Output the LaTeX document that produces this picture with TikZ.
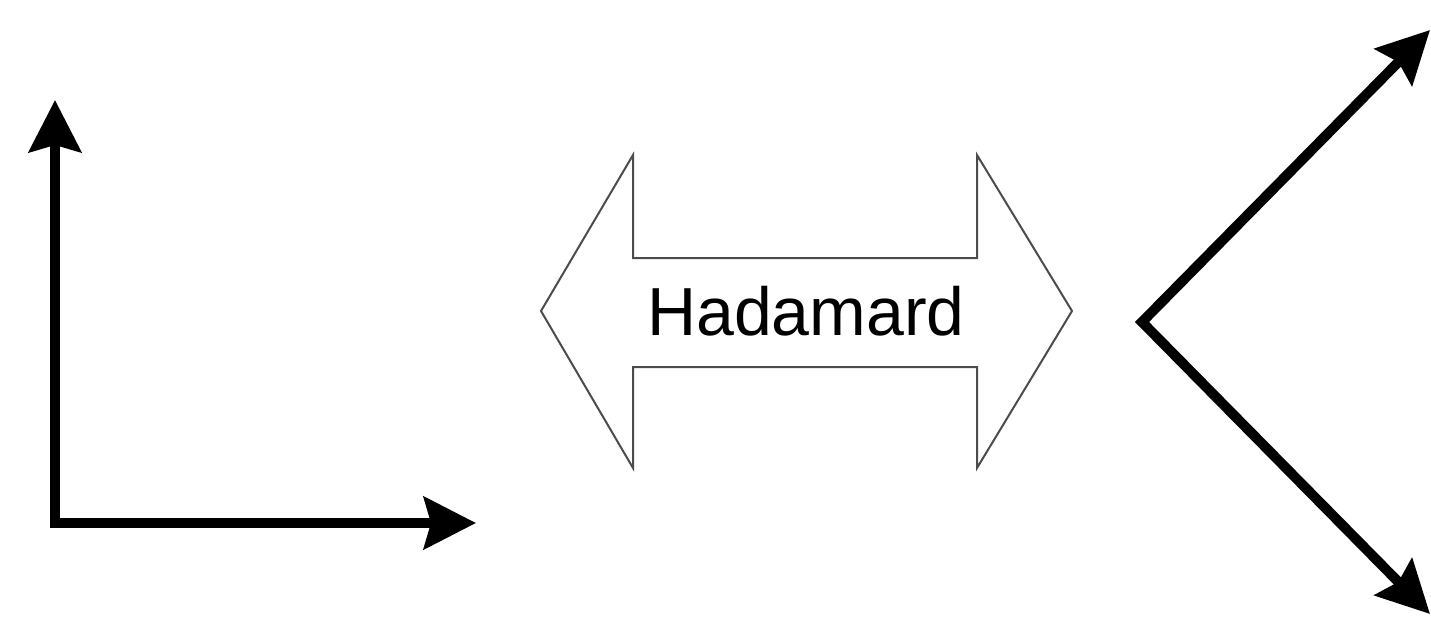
\documentclass[tikz,border=0pt]{standalone}
\usepackage{fontspec}
\setsansfont{Liberation Sans}
\usetikzlibrary{arrows.meta,positioning}

\begin{document}
\begin{tikzpicture}[x=1pt, y=-1pt,
    >={Stealth[length=52pt,width=52pt,inset=7pt]},
    basis/.style={line width=10pt, line join=miter},
    hadarrow/.style={draw=black!70, line width=2pt, fill=white}]
    \useasboundingbox (0,0) rectangle (1431,623);
    % standard basis
    \coordinate (zero) at (55,523);
    \coordinate (ket0) at (55,100);
    \coordinate (ket1) at (476,523);
    \draw[basis, ->, line cap=rect] (zero) -- (ket0);
    \draw[basis, ->, line cap=rect] (zero) -- (ket1);
    % double arrow
    \draw[hadarrow]
    (541,311) -- (633,155) -- (633,258) -- (977,258) -- (977,155)
    -- (1072,311) -- (977,468) -- (977,367) -- (633,367) -- (633,468) --cycle;
    \node (hlabel) at (806,311) {\sffamily\fontsize{68}{80}\selectfont Hadamard};
    % rotated basis
    \coordinate (corner) at (1142,322);
    \coordinate (plus) at (1430,30);
    \coordinate (minus) at (1430,614);
    \draw[basis, <->] (plus) -- (corner) -- (minus);
\end{tikzpicture}
\end{document}
